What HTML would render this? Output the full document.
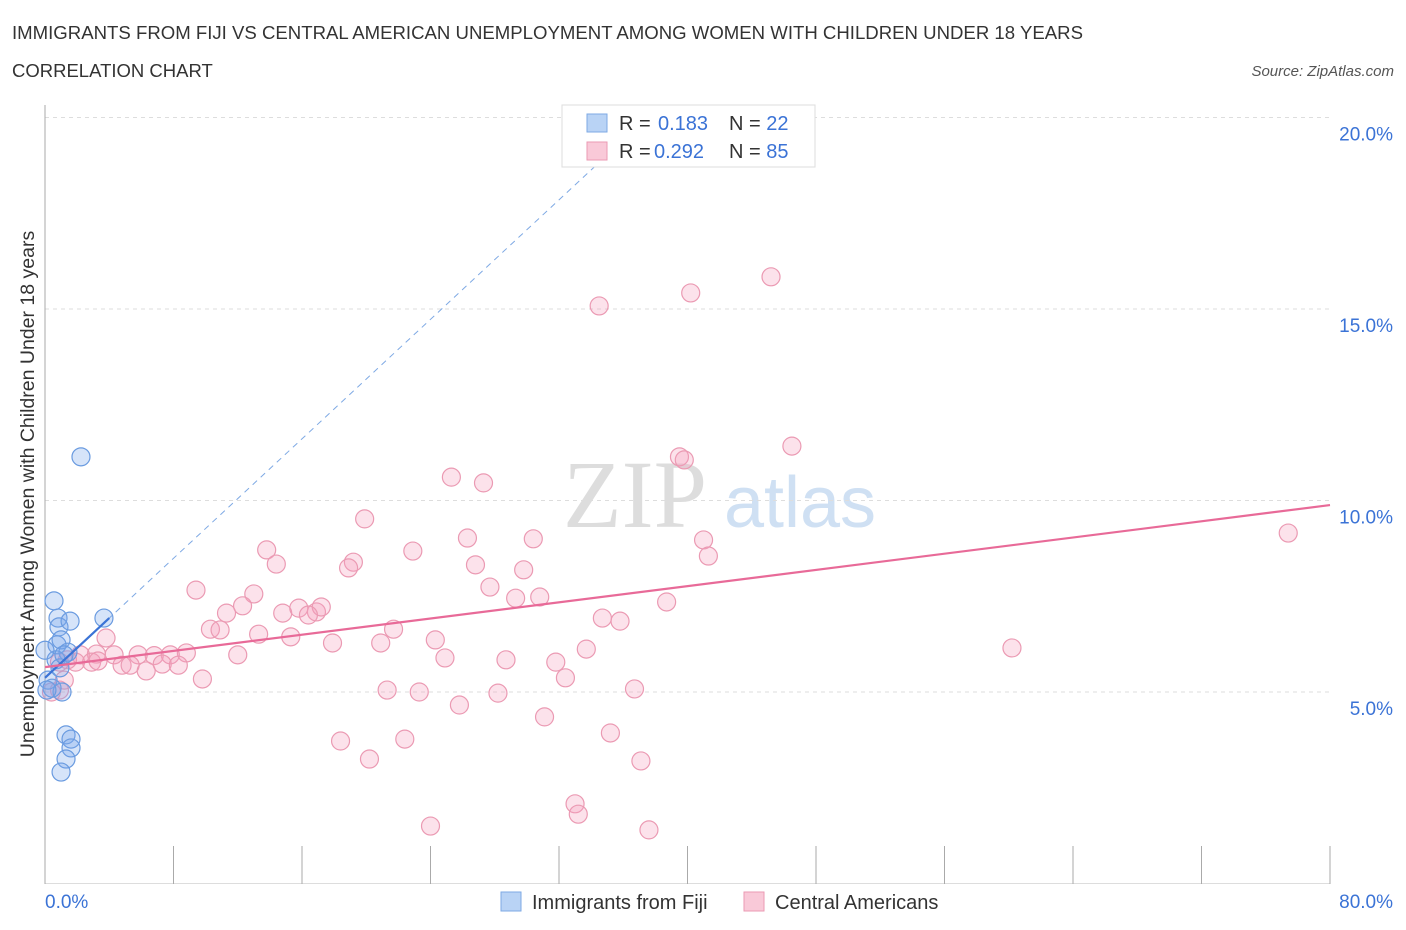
<!DOCTYPE html>
<html><head><meta charset="utf-8"><style>
body{margin:0;background:#fff;font-family:"Liberation Sans",sans-serif}
svg{display:block}
</style></head><body>
<svg width="1406" height="930" xmlns="http://www.w3.org/2000/svg">
<text x="12" y="39" font-size="18.6" fill="#333">IMMIGRANTS FROM FIJI VS CENTRAL AMERICAN UNEMPLOYMENT AMONG WOMEN WITH CHILDREN UNDER 18 YEARS</text>
<text x="12" y="77" font-size="18.5" fill="#333">CORRELATION CHART</text>
<text x="1394" y="76" font-size="15" fill="#555" font-style="italic" text-anchor="end">Source: ZipAtlas.com</text>
<text x="635" y="527" font-size="96" fill="#ddd" font-family="Liberation Serif,serif" text-anchor="middle">ZIP</text>
<text x="800" y="527" font-size="72" fill="#cfe0f3" text-anchor="middle">atlas</text>
<g id="grid"></g>
<g id="axes"></g>
<g id="marks"></g>
<text x="34" y="494" font-size="19.5" fill="#333" transform="rotate(-90 34 494)" text-anchor="middle">Unemployment Among Women with Children Under 18 years</text>
<g>
<rect x="562" y="105" width="253" height="62" fill="#fff" stroke="#ddd"/>
<rect x="587" y="114" width="20" height="18" fill="#b9d3f5" stroke="#7ea9e4"/>
<rect x="587" y="142" width="20" height="18" fill="#f9c9d8" stroke="#eb9ab3"/>
<text x="619" y="130" font-size="20" fill="#333">R = <tspan fill="#3b73d6" x="658">0.183</tspan><tspan x="729">N = </tspan><tspan fill="#3b73d6">22</tspan></text>
<text x="619" y="158" font-size="20" fill="#333">R = <tspan fill="#3b73d6" x="654">0.292</tspan><tspan x="729">N = </tspan><tspan fill="#3b73d6">85</tspan></text>
</g>
<g>
<rect x="501" y="892" width="20" height="19" fill="#b9d3f5" stroke="#7ea9e4"/>
<text x="532" y="909" font-size="20" fill="#333">Immigrants from Fiji</text>
<rect x="744" y="892" width="20" height="19" fill="#f9c9d8" stroke="#eb9ab3"/>
<text x="775" y="909" font-size="20" fill="#333">Central Americans</text>
</g>
</svg>
<script>
const fijiX=[0.56,0.81,0.87,1.56,0.75,1.0,1.43,0.69,0.93,1.18,0.19,0.44,1.06,2.24,3.67,1.31,1.62,1.62,1.31,1.0,0.12,0.0];
const fijiY=[7.38,6.93,6.70,6.85,6.23,6.36,6.04,5.84,5.63,5.97,5.31,5.10,5.0,11.14,6.93,3.88,3.77,3.54,3.25,2.91,5.05,6.09];
const camX=[34.5,40.2,45.2,46.5,39.5,39.8,25.3,27.3,19.9,77.4,41.0,41.3,30.4,26.3,13.8,22.9,14.4,19.2,18.9,26.8,29.8,27.7,9.4,29.3,30.8,38.7,13.0,12.3,11.3,14.8,15.8,16.9,17.2,16.4,34.7,35.8,21.7,10.3,10.9,13.3,15.3,3.8,17.9,20.9,24.3,33.7,60.2,12.0,24.9,8.8,7.8,6.8,5.8,4.3,3.2,2.2,1.9,2.9,3.3,4.8,5.3,7.3,8.3,6.3,28.7,31.8,32.4,9.8,21.3,23.3,28.2,36.7,0.9,1.2,0.4,25.8,31.1,35.2,22.4,18.4,20.2,37.1,33.0,33.2,24.0,37.6,1.4,0.9];
const camY=[15.08,15.42,15.84,11.42,11.14,11.06,10.61,10.46,9.52,9.15,8.97,8.55,9.0,9.02,8.71,8.68,8.34,8.39,8.24,8.32,8.19,7.74,7.66,7.45,7.48,7.35,7.56,7.25,7.06,7.06,7.19,7.09,7.22,7.01,6.93,6.85,6.64,6.64,6.62,6.51,6.44,6.41,6.28,6.28,6.36,6.12,6.15,5.97,5.89,6.02,5.97,5.95,5.97,5.97,5.99,5.97,5.78,5.78,5.81,5.70,5.70,5.73,5.70,5.55,5.84,5.78,5.37,5.34,5.05,5.0,4.97,5.08,5.05,5.31,5.0,4.66,4.35,3.93,3.77,3.72,3.25,3.20,2.08,1.81,1.50,1.40,5.84,5.78];
const yTicks=[5,10,15,20];
const xTicks=[0,8,16,24,32,40,48,56,64,72,80];
const camTrend=[5.65,9.88];
const fijiTrend=[5.37,0.39];
(function(){
const NS='http://www.w3.org/2000/svg';
const sx=v=>45+v/80*1285;
const sy=v=>883.5-v*38.3;
function mk(tag,attrs,parent){const e=document.createElementNS(NS,tag);for(const k in attrs)e.setAttribute(k,attrs[k]);parent.appendChild(e);return e;}
const grid=document.getElementById('grid'),axes=document.getElementById('axes'),marks=document.getElementById('marks');
yTicks.forEach(t=>{
 const l=mk('line',{x1:45,x2:1330,y1:sy(t),y2:sy(t),stroke:'#ddd','stroke-dasharray':'4 4'},grid);
 
 
 const tx=mk('text',{x:1393,y:sy(t)+23,'font-size':19,fill:'#3b73d6','text-anchor':'end'},axes);
 tx.textContent=t.toFixed(1)+'%';
 
 
});
const ya=mk('line',{x1:45,x2:45,y1:105,y2:884,stroke:'#aaa'},axes);


const xa=mk('line',{x1:45,x2:1330,y1:883.5,y2:883.5,stroke:'#ddd'},axes);


xTicks.forEach(t=>{
 const l=mk('line',{x1:sx(t),x2:sx(t),y1:846,y2:884,stroke:'#aaa'},axes);
 
 
});
[[0,'start',45],[80,'end',1393]].forEach(([v,a,x])=>{
 const tx=mk('text',{x:x,y:908,'font-size':19,fill:'#3b73d6','text-anchor':a},axes);
 tx.textContent=v.toFixed(1)+'%';
 
 
});
camX.forEach((x,i)=>{
 const c=mk('circle',{cx:sx(x),cy:sy(camY[i]),r:9,fill:'rgba(244,160,188,0.3)',stroke:'#eb9ab3','stroke-width':1.2},marks);
 
 
});
fijiX.forEach((x,i)=>{
 const c=mk('circle',{cx:sx(x),cy:sy(fijiY[i]),r:9,fill:'rgba(120,165,235,0.3)',stroke:'#6a9be0','stroke-width':1.2},marks);
 
 
});
const fx2=(18.8-fijiTrend[0])/fijiTrend[1];
const fd=mk('line',{x1:sx(3.9),y1:sy(fijiTrend[0]+fijiTrend[1]*3.9),x2:sx(fx2),y2:sy(18.8),stroke:'#7ea9e4','stroke-width':1,'stroke-dasharray':'6 5'},marks);


const fs=mk('line',{x1:sx(0),y1:sy(fijiTrend[0]),x2:sx(4.0),y2:sy(fijiTrend[0]+fijiTrend[1]*4),stroke:'#3b73d6','stroke-width':2.2},marks);


const ct=mk('line',{x1:sx(0),y1:sy(camTrend[0]),x2:sx(80),y2:sy(camTrend[1]),stroke:'#e86a98','stroke-width':2.2},marks);


})();
</script>
</body></html>
